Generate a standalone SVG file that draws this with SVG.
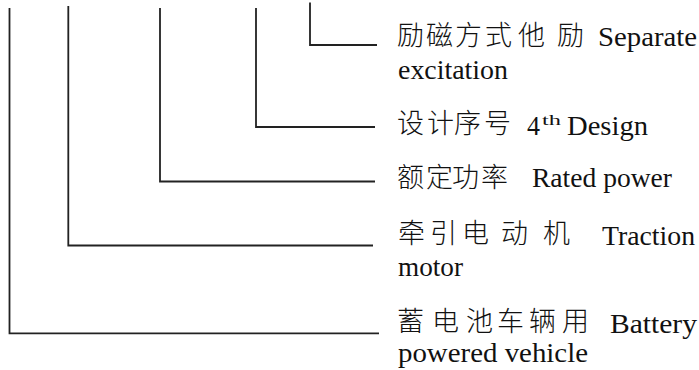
<svg xmlns="http://www.w3.org/2000/svg" width="699" height="370" viewBox="0 0 699 370">
<style>
.bg{fill:#fff}
.c{fill:none;stroke:#222;stroke-width:1.8}
.t{font-family:"Liberation Serif","Noto Sans CJK SC",serif;font-size:28px;fill:#111}
.cjk{font-size:27px;font-weight:300}
.sup{font-size:15px}
</style>
<rect class="bg" x="0" y="0" width="699" height="370"/>
<g id="connectors">
<path class="c" d="M310 2.5V45H377"/>
<path class="c" d="M256 8V127H375"/>
<path class="c" d="M160 8V181.5H375"/>
<path class="c" d="M68.3 6V245.5H373"/>
<path class="c" d="M9.5 8V333.3H379"/>
</g>
<g id="node-excitation">
<text class="t"><tspan class="cjk" x="397 426 455 485 518 557" y="45">励磁方式他励</tspan><tspan x="598" y="46" textLength="99" lengthAdjust="spacingAndGlyphs">Separate</tspan></text>
<text class="t" x="398" y="79" textLength="110" lengthAdjust="spacingAndGlyphs">excitation</text>
</g>
<g id="node-design">
<text class="t"><tspan class="cjk" x="397 427 454 484" y="133">设计序号</tspan><tspan x="527" y="135" textLength="13" lengthAdjust="spacingAndGlyphs">4</tspan><tspan class="sup" x="542" y="125" textLength="19" lengthAdjust="spacingAndGlyphs">th</tspan><tspan x="567" y="135" textLength="81" lengthAdjust="spacingAndGlyphs">Design</tspan></text>
</g>
<g id="node-power">
<text class="t"><tspan class="cjk" x="397 426 452 481" y="187">额定功率</tspan><tspan x="532" y="187" textLength="140" lengthAdjust="spacingAndGlyphs">Rated power</tspan></text>
</g>
<g id="node-motor">
<text class="t"><tspan class="cjk" x="398 430 462 501 543" y="243">牵引电动机</tspan><tspan x="602" y="245" textLength="93" lengthAdjust="spacingAndGlyphs">Traction</tspan></text>
<text class="t" x="398" y="276" textLength="65" lengthAdjust="spacingAndGlyphs">motor</text>
</g>
<g id="node-vehicle">
<text class="t"><tspan class="cjk" x="397 432 466 497 529 562" y="331">蓄电池车辆用</tspan><tspan x="610" y="333" textLength="87" lengthAdjust="spacingAndGlyphs">Battery</tspan></text>
<text class="t" x="398" y="362" textLength="190" lengthAdjust="spacingAndGlyphs">powered vehicle</text>
</g>
</svg>
